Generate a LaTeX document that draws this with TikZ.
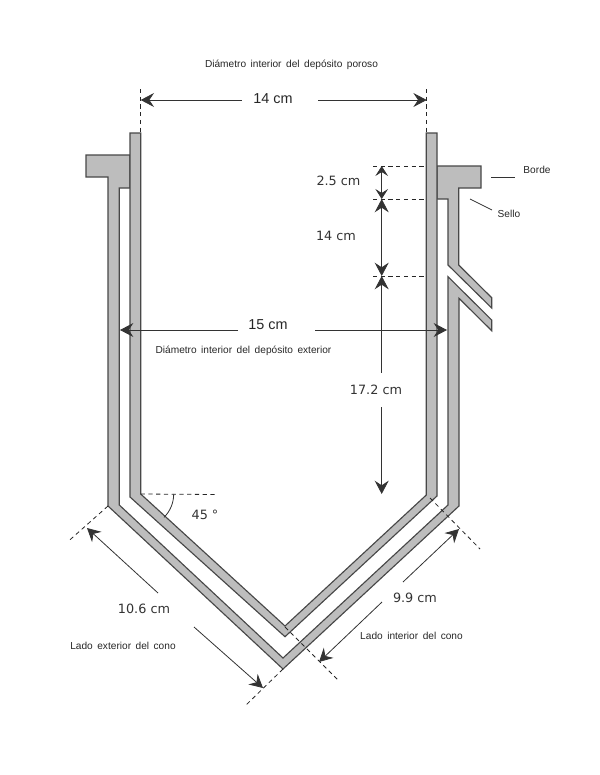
\documentclass[tikz,border=0pt]{standalone}
\usepackage{fontspec}
\setmainfont{Liberation Sans}
\newfontfamily\dimfont{DejaVu Sans}
\newfontfamily\capfont[WordSpace=1.6]{Liberation Sans}
\usetikzlibrary{arrows.meta}
\tikzset{
  wall/.style={draw=black!72,fill=black!26,line width=0.85pt,line join=miter},
  dimline/.style={draw=black!80,line width=0.6pt},
  dimarrow/.style={dimline,-{Stealth[length=10pt,width=10.5pt,inset=3.5pt]}},
  guide/.style={draw=black!85,line width=0.6pt,dash pattern=on 3.2pt off 2.6pt},
  leader/.style={draw=black!80,line width=0.6pt},
  caption/.style={inner sep=0pt,text=black!85,font=\capfont\fontsize{7.6pt}{9pt}\selectfont},
  dimtext/.style={inner sep=0pt,text=black!80,font=\dimfont\fontsize{9.6pt}{11pt}\selectfont},
  widetext/.style={inner sep=0pt,text=black!85,font=\fontsize{10.8pt}{12pt}\selectfont}
}
\begin{document}
\begin{tikzpicture}[x=0.75pt,y=-0.75pt]
\useasboundingbox (0,0) rectangle (600,775);
% named points
\coordinate (tl) at (140.7,89); \coordinate (tlb) at (140.7,133);
\coordinate (tr) at (426.7,89); \coordinate (trb) at (426.7,133);
\coordinate (a1) at (140.7,100); \coordinate (a2) at (241.7,100);
\coordinate (a3) at (318,100); \coordinate (a4) at (426.7,100);
\coordinate (b1) at (120,330); \coordinate (b2) at (238,330);
\coordinate (b3) at (315,330); \coordinate (b4) at (447,330);
\coordinate (h1) at (373,166); \coordinate (h1e) at (426.3,166);
\coordinate (h2) at (373,199); \coordinate (h2e) at (426.3,199);
\coordinate (h3) at (373,276); \coordinate (h3e) at (426.3,276);
\coordinate (v1) at (381.7,166); \coordinate (v2) at (381.7,199);
\coordinate (v3) at (381.7,276); \coordinate (v4) at (381.7,373);
\coordinate (v5) at (381.7,407); \coordinate (v6) at (381.7,494);
\coordinate (ang0) at (140.7,494); \coordinate (ang1) at (218,494.5);
\coordinate (el1) at (108,506); \coordinate (el2) at (68,541.5);
\coordinate (el3) at (283,669); \coordinate (el4) at (245,706);
\coordinate (ea1) at (158,593); \coordinate (ea2) at (87,528);
\coordinate (ea3) at (194,627); \coordinate (ea4) at (263,688);
\coordinate (il1) at (430,498); \coordinate (il2) at (480,549);
\coordinate (il3) at (285,627); \coordinate (il4) at (338,680);
\coordinate (ia1) at (403,582); \coordinate (ia2) at (459,529);
\coordinate (ia3) at (382,602); \coordinate (ia4) at (319,662);
\coordinate (bl1) at (491,177); \coordinate (bl2) at (515,177);
\coordinate (sl1) at (470,199); \coordinate (sl2) at (492,210);
% vessels
\draw[wall] (130,155) -- (86,155) -- (86,177) -- (108,177) -- (108,506) -- (283,669)
  -- (459,506) -- (459,298.3) -- (491.7,330.7) -- (491.7,320) -- (448,276.7)
  -- (448,505) -- (283,658) -- (119.3,505) -- (119.3,188) -- (130,188) -- cycle;
\draw[wall] (437,166) -- (481,166) -- (481,188) -- (458.7,188) -- (458.7,265)
  -- (491.7,297.7) -- (491.7,308) -- (448,265) -- (448,199) -- (437,199) -- cycle;
\draw[wall] (130,133) -- (140.7,133) -- (140.7,494) -- (285,626) -- (426.3,495)
  -- (426.3,133) -- (437,133) -- (437,496) -- (285,636.7) -- (130,497) -- cycle;
% guides
\draw[guide] (tl) -- (tlb);
\draw[guide] (tr) -- (trb);
\draw[guide] (h1) -- (h1e);
\draw[guide] (h2) -- (h2e);
\draw[guide] (h3) -- (h3e);
\draw[guide] (ang0) -- (ang1);
\draw[guide] (el1) -- (el2);
\draw[guide] (el3) -- (el4);
\draw[guide] (il1) -- (il2);
\draw[guide] (il3) -- (il4);
% dimension arrows
\draw[dimarrow] (a2) -- (a1);
\draw[dimarrow] (a3) -- (a4);
\draw[dimarrow] (b2) -- (b1);
\draw[dimarrow] (b3) -- (b4);
\draw[dimline,{Stealth[length=7.5pt,width=9.5pt,inset=3pt]}-{Stealth[length=7.5pt,width=9.5pt,inset=3pt]}] (v1) -- (v2);
\draw[dimline,{Stealth[length=10pt,width=10.5pt,inset=3.5pt]}-{Stealth[length=10pt,width=10.5pt,inset=3.5pt]}] (v2) -- (v3);
\draw[dimline,{Stealth[length=10pt,width=10.5pt,inset=3.5pt]}-] (v3) -- (v4);
\draw[dimarrow] (v5) -- (v6);
\draw[dimarrow] (ea1) -- (ea2);
\draw[dimarrow] (ea3) -- (ea4);
\draw[dimarrow] (ia1) -- (ia2);
\draw[dimarrow] (ia3) -- (ia4);
% angle arc and leaders
\draw[dimline] (ang0) ++(33,0) arc[start angle=0,end angle=45,radius=33];
\draw[leader] (bl1) -- (bl2);
\draw[leader] (sl1) -- (sl2);
% texts
\node[caption] (t1) at (291.5,64.5) {Diámetro interior del depósito poroso};
\node[caption] (t2) at (243.5,351) {Diámetro interior del depósito exterior};
\node[caption] (t3) at (123,646) {Lado exterior del cono};
\node[caption] (t4) at (411.5,636) {Lado interior del cono};
\node[caption] (t5) at (537,170) {Borde};
\node[caption] (t6) at (509,214) {Sello};
\node[widetext] (d1) at (273,99) {14 cm};
\node[widetext] (d2) at (268,325) {15 cm};
\node[dimtext] (d3) at (338.5,181) {2.5 cm};
\node[dimtext] (d4) at (336,236) {14 cm};
\node[dimtext] (d5) at (376,390) {17.2 cm};
\node[dimtext] (d6) at (144,609) {10.6 cm};
\node[dimtext] (d7) at (415,598) {9.9 cm};
\node[dimtext] (d8) at (205,515) {45 °};
\end{tikzpicture}
\end{document}
